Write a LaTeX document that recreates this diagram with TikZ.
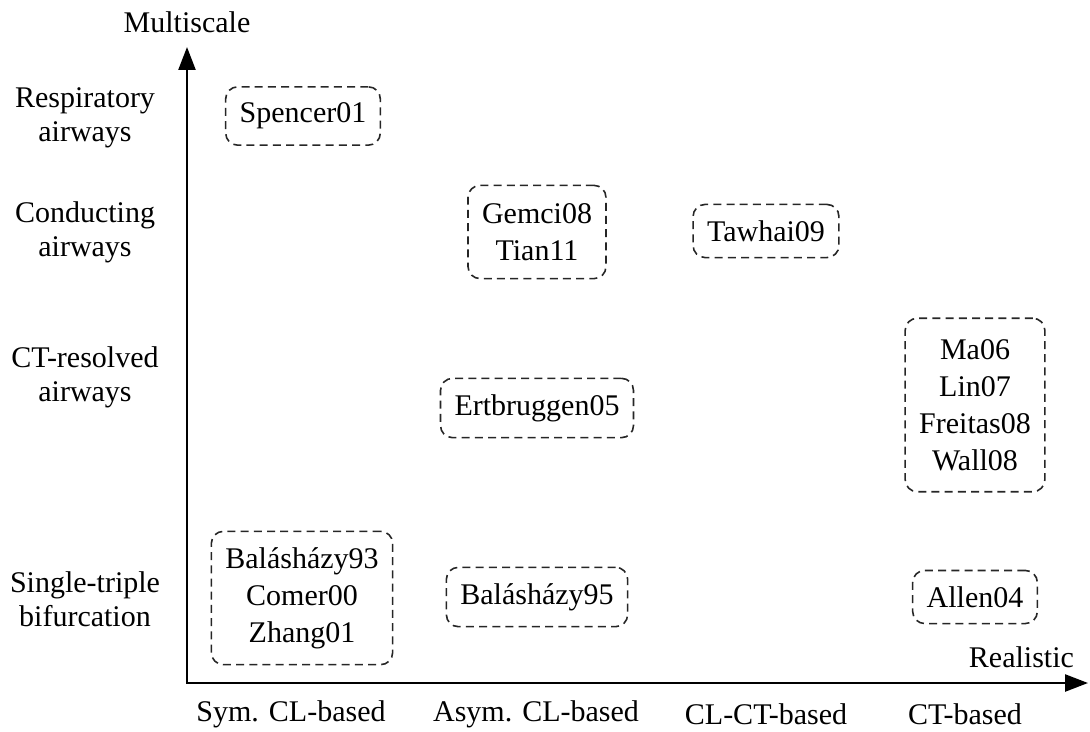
\documentclass[tikz,border=0pt]{standalone}
\usepackage{fontspec}
\setmainfont{Liberation Serif}
\usetikzlibrary{arrows.meta}
\tikzset{
  axis/.style={line width=1.2pt,{Triangle[length=11.5pt,width=8.5pt]}-{Triangle[length=11.5pt,width=8.5pt]}},
  label/.style={align=center,font=\fontsize{15}{17}\selectfont},
  study/.style={align=center,font=\fontsize{15}{18.5}\selectfont,draw=black!85,dashed,dash pattern=on 4pt off 2.6pt,line width=0.8pt,rounded corners=6pt,inner xsep=7pt,inner ysep=8pt}
}
\begin{document}
\begin{tikzpicture}[x=0.5pt,y=-0.5pt]
  \useasboundingbox (0,0) rectangle (1090,732);
  % axes
  \coordinate (O) at (187,683);
  \coordinate (ytop) at (187,47);
  \coordinate (xend) at (1088,683);
  \draw[axis] (ytop) -- (O) -- (xend);
  \node[label] (multi) at (187,22) {Multiscale};
  \node[label,anchor=east] (real) at (1081,657) {Realistic};
  % rows
  \node[label] (resp) at (85,118) {Respiratory\\airways};
  \node[label] (cond) at (85,232) {Conducting\\airways};
  \node[label] (ctres) at (85,377) {CT-resolved\\airways};
  \node[label] (single) at (85,599) {Single-triple\\bifurcation};
  % columns
  \node[label] (sym) at (291,714) {Sym. CL-based};
  \node[label] (asym) at (536,714) {Asym. CL-based};
  \node[label] (clct) at (766,714) {CL-CT-based};
  \node[label] (ct) at (965,714) {CT-based};
  % studies
  \node[study] (spencer) at (303,116) {Spencer01};
  \node[study,inner ysep=9pt] (gemci) at (537,232) {Gemci08\\Tian11};
  \node[study] (tawhai) at (766,231) {Tawhai09};
  \node[study] (ertb) at (537,408) {Ertbruggen05};
  \node[study,inner ysep=10.5pt] (ma) at (975,405) {Ma06\\Lin07\\Freitas08\\Wall08};
  \node[study] (bala93) at (302,598) {Balásházy93\\Comer00\\Zhang01};
  \node[study] (bala95) at (537,597) {Balásházy95};
  \node[study] (allen) at (975,597) {Allen04};
\end{tikzpicture}
\end{document}
